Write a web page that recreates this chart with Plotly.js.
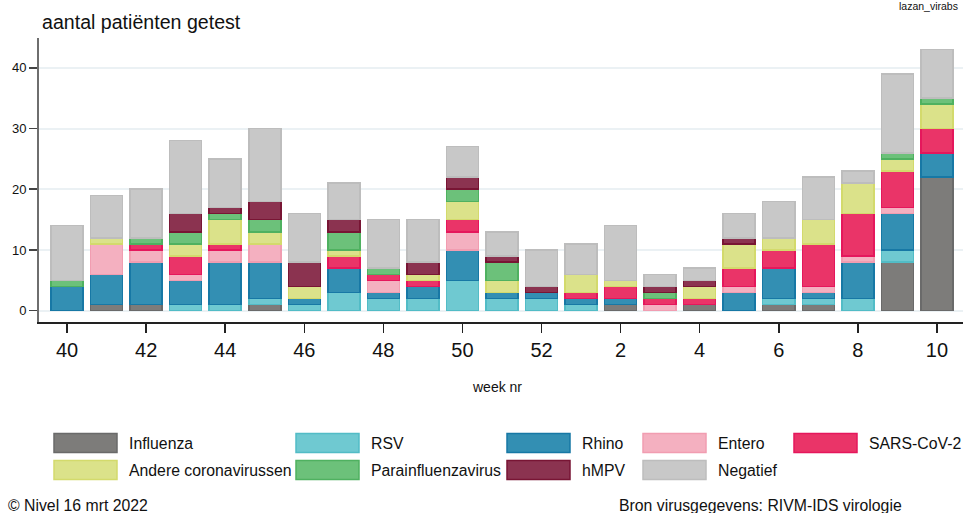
<!DOCTYPE html>
<html>
<head>
<meta charset="utf-8">
<script src="https://cdn.plot.ly/plotly-3.0.1.min.js"></script>
<style>html,body{margin:0;padding:0;background:#fff;}#chart{width:963px;height:513px;}</style>
</head>
<body>
<div id="chart"></div>
<script>
// ---- data ----
var weeks = ['40','41','42','43','44','45','46','47','48','49','50','51','52','1','2','3','4','5','6','7','8','9','10'];
var tickWeeks = ['40','42','44','46','48','50','52','2','4','6','8','10'];
var influenza = [0,1,1,0,0,1,0,0,0,0,0,0,0,0,1,0,1,0,1,1,0,8,22];
var rsv       = [0,0,0,1,1,1,1,3,2,2,5,2,2,1,0,0,0,0,1,1,2,2,0];
var rhino     = [4,5,7,4,7,6,1,4,1,2,5,1,1,1,1,0,0,3,5,1,6,6,4];
var entero    = [0,5,2,1,2,3,0,0,2,0,3,0,0,0,0,1,0,1,0,1,1,1,0];
var sars      = [0,0,1,3,1,0,0,2,1,1,2,0,0,1,2,1,1,3,3,7,7,6,4];
var andere    = [0,1,0,2,4,2,2,1,0,1,3,2,0,3,1,0,2,4,2,4,5,2,4];
var para      = [1,0,1,2,1,2,0,3,1,0,2,3,0,0,0,1,0,0,0,0,0,1,1];
var hmpv      = [0,0,0,3,1,3,4,2,0,2,2,1,1,0,0,1,1,1,0,0,0,0,0];
var negatief  = [9,7,8,12,8,12,8,6,8,7,5,4,6,5,9,2,2,4,6,7,2,13,8];

var seriesNames = ['Influenza','RSV','Rhino','Entero','SARS-CoV-2','Andere coronavirussen','Parainfluenzavirus','hMPV','Negatief'];
var seriesData  = [influenza, rsv, rhino, entero, sars, andere, para, hmpv, negatief];
var fills = ['#7d7c7a','#6fc9d1','#338fb3','#f4b0c0','#ea3468','#dbe28a','#6cc17a','#8b3350','#c8c8c8'];
var lines = ['#6a6a6a','#52bcc6','#1778a5','#f19db1','#e5175c','#d3da6c','#4fb160','#781534','#bdbdbd'];

// ---- layout helpers (pixel -> paper) ----
var W = 963, H = 513, ML = 39, MR = 0, MT = 38, MB = 191;
var PW = W - ML - MR, PH = H - MT - MB;
function px(x){ return (x - ML) / PW; }
function py(y){ return (H - MB - y) / PH; }

var font = 'Liberation Sans, Arial, sans-serif';

var traces = seriesNames.map(function(n, i){
  return {
    type: 'bar', name: n, x: weeks, y: seriesData[i],
    marker: {color: fills[i], line: {color: lines[i], width: 1.5}},
    showlegend: false, hoverinfo: 'x+y+name'
  };
});

// custom legend
var shapes = [], annotations = [];
var colSw = [54, 296, 507, 643, 794];
var rowY = [443, 470];
seriesNames.forEach(function(n, i){
  var r = i < 5 ? 0 : 1, c = i < 5 ? i : i - 5;
  var x0 = colSw[c], y0 = rowY[r] - 9.5;
  shapes.push({type:'rect', xref:'paper', yref:'paper',
    x0: px(x0), x1: px(x0 + 63), y0: py(y0 + 19), y1: py(y0),
    fillcolor: fills[i], line: {color: lines[i], width: 1.5}});
  annotations.push({xref:'paper', yref:'paper', x: px(x0 + 73), y: py(rowY[r]),
    xanchor:'left', yanchor:'middle', showarrow:false, text: n,
    font:{family: font, size: 15.8, color:'#111'}});
});

annotations.push({xref:'paper', yref:'paper', x: px(497), y: py(387), xanchor:'center', yanchor:'middle',
  showarrow:false, text:'week nr', font:{family:font, size:14, color:'#111'}});
annotations.push({xref:'paper', yref:'paper', x: px(6), y: py(505), xanchor:'left', yanchor:'middle',
  showarrow:false, text:'© Nivel 16 mrt 2022', font:{family:font, size:15.8, color:'#111'}});
annotations.push({xref:'paper', yref:'paper', x: px(617), y: py(505), xanchor:'left', yanchor:'middle',
  showarrow:false, text:'Bron virusgegevens: RIVM-IDS virologie', font:{family:font, size:15.8, color:'#111'}});
annotations.push({xref:'paper', yref:'paper', x: px(928), y: py(6), xanchor:'center', yanchor:'middle',
  showarrow:false, text:'lazan_virabs', font:{family:font, size:10.5, color:'#111'}});

var layout = {
  width: W, height: H,
  margin: {l: ML, r: MR, t: MT, b: MB, pad: 0},
  paper_bgcolor: '#fff', plot_bgcolor: '#fff',
  font: {family: font, color: '#111'},
  barmode: 'stack', bargap: 0.19,
  title: {text: 'aantal patiënten getest', x: 42/W, xanchor: 'left', y: 1 - 22/H, yanchor: 'middle',
          font: {family: font, size: 19.6, color: '#111'}},
  xaxis: {
    type: 'category', categoryorder: 'array', categoryarray: weeks,
    range: [-0.71, 22.66],
    tickmode: 'array', tickvals: tickWeeks, ticktext: tickWeeks,
    ticks: 'outside', ticklen: 9, tickwidth: 1.5, tickcolor: '#222',
    tickfont: {family: font, size: 20, color: '#111'},
    showline: true, linecolor: '#222', linewidth: 1.5,
    showgrid: false, zeroline: false
  },
  yaxis: {
    range: [-1.86, 44.9],
    tickmode: 'array', tickvals: [0,10,20,30,40],
    ticks: 'outside', ticklen: 8, tickwidth: 1.5, tickcolor: '#444',
    tickfont: {family: font, size: 13, color: '#111'},
    showline: true, linecolor: '#6e6e6e', linewidth: 2,
    showgrid: true, gridcolor: '#ebf1f4', gridwidth: 2,
    zeroline: false
  },
  shapes: shapes,
  annotations: annotations
};

Plotly.newPlot('chart', traces, layout, {displayModeBar: false, staticPlot: true});
</script>
</body>
</html>
